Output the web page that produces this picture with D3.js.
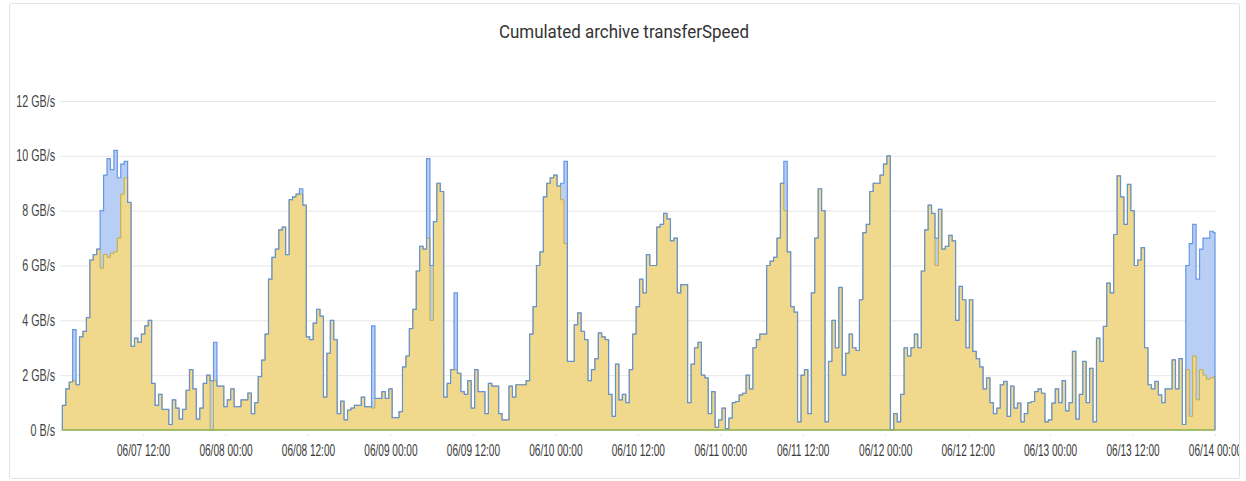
<!DOCTYPE html>
<html>
<head>
<meta charset="utf-8">
<script src="https://cdn.jsdelivr.net/npm/d3@7"></script>
<style>
  html, body { margin: 0; padding: 0; background: #fff; }
  svg { display: block; font-family: Roboto, "Noto Sans", sans-serif; }
  .grid line { stroke: #e6e6e6; stroke-width: 1; }
  .grid path { display: none; }
  .axis-y text { fill: #444; font-size: 16px; }
  .axis-x text { fill: #3a3a3a; font-size: 16px; }
</style>
</head>
<body>
<div id="chart"></div>
<script>
// Cumulated archive transferSpeed - step area chart, two overlapping series

const chartTitle = 'Cumulated archive transferSpeed';

// samples every 30 minutes, starting 06/07 00:15 (GB/s)
const startTime = new Date(2021, 5, 7, 0, 15);
const stepMinutes = 30;

// total archive speed (blue)
const totalValues = [
  0.9, 1.5, 1.75, 3.66, 1.65, 3.4, 3.6, 4.1, 6.2, 6.4, 6.6, 8.0,
  9.3, 9.9, 9.5, 10.2, 9.2, 9.7, 9.8, 8.3, 3.05, 3.35, 3.2, 3.5,
  3.8, 4.0, 1.7, 0.9, 1.3, 0.75, 0.75, 0.2, 1.1, 0.8, 0.4, 0.75,
  1.45, 2.2, 1.5, 0.4, 0.8, 1.7, 2.0, 1.8, 3.2, 1.6, 1.6, 0.85,
  1.1, 1.5, 0.85, 0.85, 1.1, 1.1, 1.35, 0.6, 1.0, 1.95, 2.55, 3.5,
  5.5, 6.3, 6.6, 7.3, 7.4, 6.4, 8.4, 8.5, 8.6, 8.8, 8.2, 3.4,
  3.3, 3.9, 4.4, 4.15, 1.2, 2.8, 4.0, 3.3, 0.6, 1.05, 0.37, 0.73,
  0.8, 0.9, 0.9, 1.2, 0.85, 0.85, 3.8, 1.15, 1.15, 1.4, 1.15, 1.5,
  0.45, 0.45, 0.67, 2.3, 2.7, 3.7, 4.4, 5.8, 6.7, 6.6, 9.9, 6.0,
  7.6, 9.0, 8.7, 1.2, 1.7, 2.2, 5.0, 2.07, 1.4, 1.3, 1.8, 0.8,
  2.2, 1.4, 1.4, 0.6, 1.7, 1.6, 1.6, 0.6, 0.37, 0.37, 1.6, 1.2,
  1.65, 1.65, 1.65, 1.8, 3.5, 4.5, 6.0, 6.5, 8.5, 9.0, 9.2, 9.3,
  8.9, 9.0, 9.8, 2.5, 2.5, 3.84, 4.27, 3.6, 3.3, 1.8, 2.2, 2.6,
  3.54, 3.4, 3.3, 1.3, 0.5, 2.4, 1.1, 1.3, 1.0, 2.2, 3.5, 4.5,
  5.5, 5.0, 6.4, 6.0, 6.0, 7.4, 7.5, 7.9, 7.7, 6.9, 7.0, 5.0,
  5.3, 5.3, 1.0, 2.4, 3.0, 3.2, 2.0, 1.9, 0.6, 1.4, 0.1, 0.37,
  0.8, 0.05, 0.43, 1.0, 1.04, 1.28, 1.34, 2.0, 1.5, 3.0, 3.3, 3.5,
  3.5, 6.0, 6.16, 6.3, 7.0, 9.0, 9.8, 6.5, 4.5, 4.3, 0.3, 2.0,
  2.2, 0.6, 5.0, 7.0, 8.8, 8.0, 0.3, 2.5, 4.0, 3.0, 5.2, 2.0,
  2.8, 3.5, 3.0, 2.9, 4.75, 7.2, 7.5, 8.7, 9.0, 9.0, 9.3, 9.7,
  10.0, 0, 0.6, 0.3, 1.3, 3.0, 2.7, 3.0, 3.5, 3.0, 5.8, 7.3,
  8.2, 7.9, 7.0, 8.05, 6.6, 6.7, 7.1, 6.9, 4.0, 5.24, 4.75, 3.0,
  4.75, 2.87, 2.6, 2.3, 1.5, 1.9, 1.0, 0.6, 0.8, 1.65, 1.77, 0.5,
  1.6, 0.8, 0.98, 0.3, 0.6, 1.0, 1.04, 1.4, 1.5, 1.34, 0.3, 0.37,
  0.98, 1.5, 1.0, 1.8, 0.7, 1.0, 2.87, 0.4, 1.3, 2.5, 1.0, 2.25,
  0.3, 3.35, 2.5, 3.78, 5.36, 5.0, 7.13, 9.27, 8.5, 7.5, 8.96, 8.0,
  6.0, 6.2, 6.65, 3.0, 1.65, 1.5, 1.77, 1.28, 1.0, 1.5, 1.5, 2.56,
  1.5, 2.6, 0.2, 6.0, 6.8, 7.5, 5.5, 6.6, 7.0, 7.0, 7.25, 7.2
];

// second archive series (yellow), drawn on top
const subsetValues = [
  0.9, 1.5, 1.75, 1.8, 1.65, 3.4, 3.6, 4.1, 6.2, 6.4, 6.6, 5.9,
  6.4, 6.3, 6.45, 6.5, 7.0, 8.6, 9.2, 8.3, 3.05, 3.35, 3.2, 3.5,
  3.8, 4.0, 1.7, 0.9, 1.3, 0.75, 0.75, 0.2, 1.1, 0.8, 0.4, 0.75,
  1.45, 2.2, 1.5, 0.4, 0.8, 1.7, 2.0, 0, 1.8, 1.6, 1.6, 0.85,
  1.1, 1.5, 0.85, 0.85, 1.1, 1.1, 1.35, 0.6, 1.0, 1.95, 2.55, 3.5,
  5.5, 6.3, 6.6, 7.3, 7.4, 6.4, 8.4, 8.5, 8.6, 8.6, 8.2, 3.4,
  3.3, 3.9, 4.4, 4.15, 1.2, 2.8, 4.0, 3.3, 0.6, 1.05, 0.37, 0.73,
  0.8, 0.9, 0.9, 1.2, 0.85, 0.85, 0.8, 1.15, 1.15, 1.4, 1.15, 1.5,
  0.45, 0.45, 0.67, 2.3, 2.7, 3.7, 4.4, 5.8, 6.7, 6.6, 7.0, 4.0,
  7.6, 9.0, 8.7, 1.2, 1.7, 2.2, 2.2, 2.07, 1.4, 1.3, 1.8, 0.8,
  2.2, 1.4, 1.4, 0.6, 1.7, 1.6, 1.6, 0.6, 0.37, 0.37, 1.6, 1.2,
  1.65, 1.65, 1.65, 1.8, 3.5, 4.5, 6.0, 6.5, 8.5, 9.0, 9.2, 9.3,
  8.9, 8.4, 6.8, 2.5, 2.5, 3.84, 4.27, 3.6, 3.3, 1.8, 2.2, 2.6,
  3.54, 3.4, 3.3, 1.3, 0.5, 2.4, 1.1, 1.3, 1.0, 2.2, 3.5, 4.5,
  5.5, 5.0, 6.4, 6.0, 6.0, 7.4, 7.5, 7.9, 7.7, 6.9, 7.0, 5.0,
  5.3, 5.3, 1.0, 2.4, 3.0, 3.2, 2.0, 1.9, 0.6, 1.4, 0.1, 0.37,
  0.8, 0.05, 0.43, 1.0, 1.04, 1.28, 1.34, 2.0, 1.5, 3.0, 3.3, 3.5,
  3.5, 6.0, 6.16, 6.3, 7.0, 9.0, 8.0, 6.5, 4.5, 4.3, 0.3, 2.0,
  2.2, 0.6, 5.0, 7.0, 8.8, 8.0, 0.3, 2.5, 4.0, 3.0, 5.2, 2.0,
  2.8, 3.5, 3.0, 2.9, 4.75, 7.2, 7.5, 8.7, 9.0, 9.0, 9.3, 9.7,
  10.0, 0, 0.6, 0.3, 1.3, 3.0, 2.7, 3.0, 3.5, 3.0, 5.8, 7.3,
  8.2, 7.9, 6.0, 8.05, 6.6, 6.7, 7.1, 6.9, 4.0, 5.24, 4.75, 3.0,
  4.75, 2.87, 2.6, 2.3, 1.5, 1.9, 1.0, 0.6, 0.8, 1.65, 1.77, 0.5,
  1.6, 0.8, 0.98, 0.3, 0.6, 1.0, 1.04, 1.4, 1.5, 1.34, 0.3, 0.37,
  0.98, 1.5, 1.0, 1.8, 0.7, 1.0, 2.87, 0.4, 1.3, 2.5, 1.0, 2.25,
  0.3, 3.35, 2.5, 3.78, 5.36, 5.0, 7.13, 9.27, 8.5, 7.5, 8.96, 8.0,
  6.0, 6.2, 6.65, 3.0, 1.65, 1.5, 1.77, 1.28, 1.0, 1.5, 1.5, 2.56,
  1.5, 2.6, 0.2, 2.2, 0.5, 2.7, 1.1, 2.2, 2.0, 1.85, 1.9, 1.95
];

// axis
const yTicks = [0, 2, 4, 6, 8, 10, 12];
const yTickLabels = ['0 B/s', '2 GB/s', '4 GB/s', '6 GB/s', '8 GB/s', '10 GB/s', '12 GB/s'];
const timeStart = new Date(2021, 5, 7, 0, 12);
const timeEnd = new Date(2021, 5, 14, 0, 0);

// Dimensions
const width = 1246, height = 481;
const plot = { left: 62, right: 1215, top: 101, bottom: 430 };

const svg = d3.select('#chart')
  .append('svg')
  .attr('width', width)
  .attr('height', height);

// panel frame
svg.append('rect')
  .attr('x', 9.5).attr('y', 3.5)
  .attr('width', 1230).attr('height', 475)
  .attr('rx', 2)
  .attr('fill', '#fff')
  .attr('stroke', '#e3e3e3');

svg.append('clipPath').attr('id', 'panel-clip')
  .append('rect').attr('x', 10).attr('y', 4).attr('width', 1229).attr('height', 474);

// the font in the original is narrow, squeeze glyphs horizontally
function condense(sel, k) {
  sel.each(function() {
    const len = this.getComputedTextLength();
    d3.select(this).attr('textLength', len * k).attr('lengthAdjust', 'spacingAndGlyphs');
  });
}

svg.append('text')
  .attr('x', 624).attr('y', 38)
  .attr('text-anchor', 'middle')
  .attr('font-size', 18)
  .attr('fill', '#333')
  .text(chartTitle)
  .call(condense, 0.94);

const x = d3.scaleTime().domain([timeStart, timeEnd]).range([plot.left, plot.right]);
const y = d3.scaleLinear().domain([0, 12]).range([plot.bottom, plot.top]);

// grid + labels
svg.append('g')
  .attr('class', 'grid axis-y')
  .attr('transform', `translate(${plot.left},0)`)
  .call(d3.axisLeft(y)
    .tickValues(yTicks)
    .tickFormat((d, i) => yTickLabels[i])
    .tickSize(0)
    .tickPadding(7))
  .call(g => g.selectAll('.tick line').attr('x1', -2).attr('x2', plot.right - plot.left + 1))
  .call(g => g.selectAll('.tick text').call(condense, 0.67));

svg.append('g')
  .attr('class', 'grid axis-x')
  .attr('clip-path', 'url(#panel-clip)')
  .attr('transform', `translate(0,${plot.bottom})`)
  .call(d3.axisBottom(x)
    .ticks(d3.timeHour.every(12))
    .tickFormat(d3.timeFormat('%m/%d %H:%M'))
    .tickSize(-(plot.bottom - plot.top))
    .tickPadding(15))
  .call(g => g.selectAll('.tick line').attr('y1', 6))
  .call(g => g.selectAll('.tick text').call(condense, 0.63));

// series
const toPoints = values => [{ t: startTime, v: 0 }]
  .concat(values.map((v, i) => ({ t: d3.timeMinute.offset(startTime, i * stepMinutes), v: v })))
  .concat([{ t: timeEnd, v: values[values.length - 1] }, { t: timeEnd, v: 0 }]);

const area = d3.area()
  .curve(d3.curveStepAfter)
  .x(d => x(d.t))
  .y0(y(0))
  .y1(d => y(d.v));

const line = d3.line()
  .curve(d3.curveStepAfter)
  .x(d => x(d.t))
  .y(d => y(d.v));

const totalPts = toPoints(totalValues);
const subsetPts = toPoints(subsetValues);

svg.append('path').datum(totalPts)
  .attr('d', area)
  .attr('fill', '#b9cef4');

svg.append('path').datum(subsetPts)
  .attr('d', area)
  .attr('fill', '#f0d98c');

svg.append('path').datum(subsetPts)
  .attr('d', line)
  .attr('fill', 'none')
  .attr('stroke', '#c4ab45')
  .attr('stroke-width', 1);

svg.append('path').datum(totalPts)
  .attr('d', line)
  .attr('fill', 'none')
  .attr('stroke', '#5a8fe2')
  .attr('stroke-width', 1.2)
  .attr('stroke-opacity', 0.9);

// zero series baseline
svg.append('line')
  .attr('x1', x(startTime)).attr('x2', x(timeEnd))
  .attr('y1', y(0)).attr('y2', y(0))
  .attr('stroke', '#8db24a')
  .attr('stroke-width', 1.5);
</script>
</body>
</html>
